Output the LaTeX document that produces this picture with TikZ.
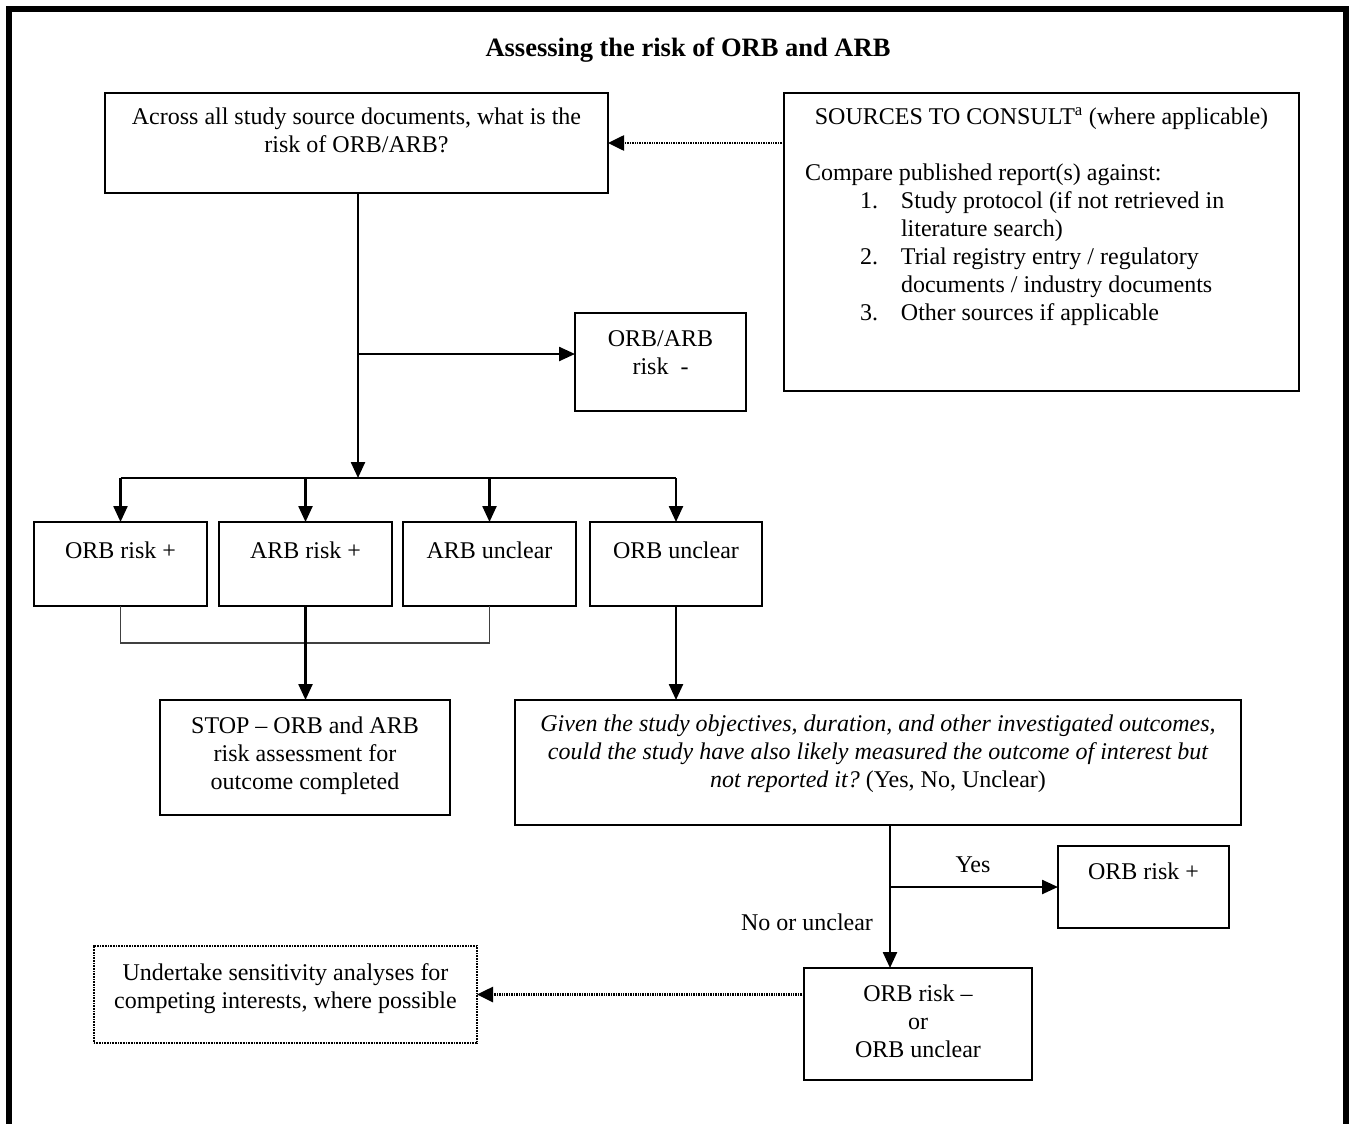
\documentclass[tikz,border=0pt]{standalone}
\usepackage{fontspec}
\setmainfont{Liberation Serif}
\usetikzlibrary{arrows.meta,calc}
\newcommand\bt[4][13]{\parbox[c][#3pt][t]{#2pt}{\centering\vspace*{#1pt}\strut #4}}
\newcommand\itm[2]{\hspace*{76pt}\makebox[41pt][l]{#1}#2}
\tikzset{
  box/.style={draw, line width=2pt, inner sep=0pt, outer sep=0pt, anchor=north west},
  dotbox/.style={draw, line width=1.6pt, dash pattern=on 1pt off 0.6pt, inner sep=0pt, outer sep=0pt, anchor=north west},
  txt/.style={inner sep=0pt},
  arr/.style={line width=2.4pt, -{Triangle[length=16pt,width=14pt]}},
  ln/.style={line width=2.4pt},
  thin/.style={line width=1.6pt, black!75},
  dotarr/.style={line width=2.6pt, dash pattern=on 1pt off 0.7pt, -{Triangle[length=16pt,width=15pt]}},
}
\begin{document}
\begin{tikzpicture}[x=1pt,y=-1pt, every node/.style={font=\fontsize{24}{28}\selectfont}]
\useasboundingbox (0,0) rectangle (1350,1124);
\draw[line width=6pt] (9,1124) -- (9,9) -- (1346,9) -- (1346,1124);
\node[txt, font=\fontsize{26.5}{30}\selectfont\bfseries] (title) at (688,50) {Assessing the risk of ORB and ARB};
% boxes
\node[box] (a) at (105,93) {\bt[12]{503}{100}{Across all study source documents, what is the\\ risk of ORB/ARB?}};
\node[box] (src) at (784,93) {\parbox[c][298pt][t]{515pt}{\vspace*{12pt}{\centering\strut SOURCES TO CONSULT\textsuperscript{a} (where applicable)\par}\raggedright\strut\par
\hspace*{21pt}Compare published report(s) against:\par
\itm{1.}{Study protocol (if not retrieved in}\par
\itm{}{literature search)}\par
\itm{2.}{Trial registry entry / regulatory}\par
\itm{}{documents / industry documents}\par
\itm{3.}{Other sources if applicable}\par}};
\node[box] (rm) at (575,313) {\bt[14]{171}{98}{ORB/ARB\\ risk\ \ -}};
\node[box] (orbp) at (34,522) {\bt[17]{173}{84}{ORB risk +}};
\node[box] (arbp) at (219,522) {\bt[17]{173}{84}{ARB risk +}};
\node[box] (arbu) at (403,522) {\bt[17]{173}{84}{ARB unclear}};
\node[box] (orbu) at (590,522) {\bt[17]{172}{84}{ORB unclear}};
\node[box] (stop) at (160,700) {\bt[14]{290}{115}{STOP -- ORB and ARB\\ risk assessment for\\ outcome completed}};
\node[box] (given) at (515,700) {\bt[12]{726}{125}{\itshape Given the study objectives, duration, and other investigated outcomes,\\ could the study have also likely measured the outcome of interest but\\ not reported it?\upshape\ (Yes, No, Unclear)}};
\node[box] (orpr) at (1058,846) {\bt[14]{171}{82}{ORB risk +}};
\node[box] (orm) at (804,968) {\bt[14]{228}{112}{ORB risk --\\ or\\ ORB unclear}};
\node[dotbox] (und) at (94,946) {\bt[15]{383}{97}{Undertake sensitivity analyses for\\ competing interests, where possible}};
% labels
\node[txt] (yes) at (973,865) {Yes};
\node[txt] (no) at (807,922) {No or unclear};
% connectors
\draw[dotarr] (src.west |- a.east) -- (a.east);
\coordinate (bar) at (358,478);
\draw[arr] (a.south -| bar) -- (bar);
\coordinate (j1) at (358,354);
\draw[arr] (j1) -- (j1 -| rm.west);
\draw[ln] (orbp.north |- bar) -- (orbu.north |- bar);
\draw[arr] (orbp.north |- bar) -- (orbp.north);
\draw[arr] (arbp.north |- bar) -- (arbp.north);
\draw[arr] (arbu.north |- bar) -- (arbu.north);
\draw[arr] (orbu.north |- bar) -- (orbu.north);
\draw[thin] (orbp.south) -- ++(0,37) -| (arbu.south);
\draw[arr] (arbp.south) -- (arbp.south |- stop.north);
\draw[arr] (orbu.south) -- (orbu.south |- given.north);
\coordinate (j2) at (890,825);
\draw[arr] (j2) -- (j2 |- orm.north);
\draw[arr] (j2 |- orpr.west) -- (orpr.west);
\draw[dotarr] (orm.west |- und.east) -- (und.east);
\end{tikzpicture}
\end{document}
